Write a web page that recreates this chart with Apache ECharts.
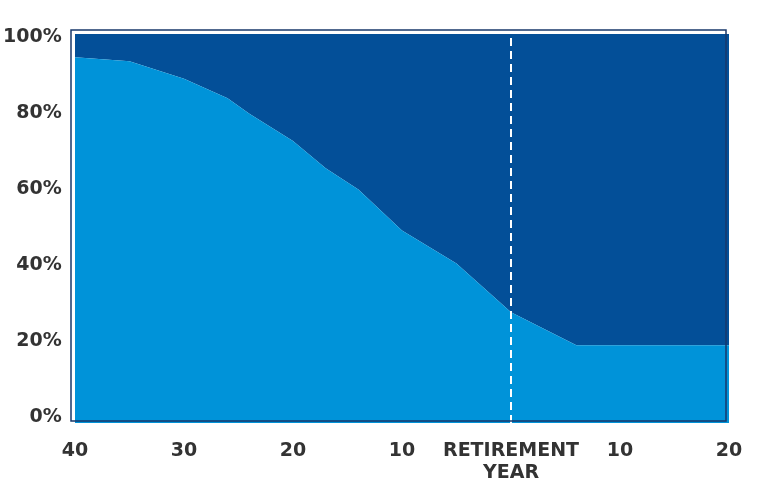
<!DOCTYPE html>
<html>
<head>
<meta charset="utf-8">
<script src="https://cdn.jsdelivr.net/npm/echarts@6/dist/echarts.min.js"></script>
<style>
  html, body { margin: 0; padding: 0; background: #fff; }
  #chart { width: 768px; height: 499px; }
</style>
</head>
<body>
<div id="chart"></div>
<script>
// years relative to retirement (negative = before)
const years = [-40, -35, -30, -26, -24, -20, -17, -14, -10, -5, 0, 6, 20]
// share in the light band (%)
const lightShare = [94, 93, 88.5, 83.5, 79.5, 72.5, 65.5, 60, 49.5, 41, 28.5, 20, 20]
const yTicks = [0, 20, 40, 60, 80, 100]
const retirementLabel = "RETIREMENT\nYEAR"

const lightBlue = "#0093d9"
const darkBlue = "#034f98"
const textColor = "#333333"
const font = "DejaVu Sans"

const points = years.map((y, i) => [y, lightShare[i]])

const myChart = echarts.init(document.getElementById("chart"))
myChart.setOption({
  animation: false,
  grid: [
    // plot area
    { left: 75, right: 39, top: 34, bottom: 76 },
    // axis for the percent labels
    { left: 75, right: 39, top: 37, bottom: 82 }
  ],
  xAxis: [
    {
      gridIndex: 0,
      type: "value",
      min: -40,
      max: 20,
      interval: 10,
      splitLine: { show: false },
      axisLine: { show: false },
      axisTick: { show: false },
      axisLabel: {
        margin: 17,
        color: textColor,
        fontFamily: font,
        fontWeight: "bold",
        fontSize: 19,
        lineHeight: 22,
        formatter: (v) => v === 0 ? retirementLabel : String(Math.abs(v))
      }
    },
    { gridIndex: 1, type: "value", min: 0, max: 1, show: false }
  ],
  yAxis: [
    { gridIndex: 0, type: "value", min: 0, max: 100, show: false },
    {
      gridIndex: 1,
      type: "value",
      min: yTicks[0],
      max: yTicks[yTicks.length - 1],
      interval: 20,
      splitLine: { show: false },
      axisLine: { show: false },
      axisTick: { show: false },
      axisLabel: {
        margin: 21,
        color: textColor,
        fontFamily: font,
        fontWeight: "bold",
        fontSize: 19,
        formatter: "{value}%"
      }
    }
  ],
  graphic: [
    {
      type: "rect",
      z: 100,
      shape: { x: 71, y: 30, width: 655, height: 391 },
      style: { fill: null, stroke: "#18396b", lineWidth: 1.5 }
    }
  ],
  series: [
    {
      type: "line",
      xAxisIndex: 0,
      yAxisIndex: 0,
      data: points,
      symbol: "none",
      lineStyle: { width: 0 },
      areaStyle: { color: darkBlue, opacity: 1, origin: "end" },
      z: 2
    },
    {
      type: "line",
      xAxisIndex: 0,
      yAxisIndex: 0,
      data: points,
      symbol: "none",
      lineStyle: { width: 0 },
      areaStyle: { color: lightBlue, opacity: 1, origin: "start" },
      z: 3,
      markLine: {
        silent: true,
        symbol: "none",
        label: { show: false },
        lineStyle: { color: "#ffffff", type: [8, 5], width: 2 },
        data: [{ xAxis: 0 }]
      }
    }
  ]
})
</script>
</body>
</html>
